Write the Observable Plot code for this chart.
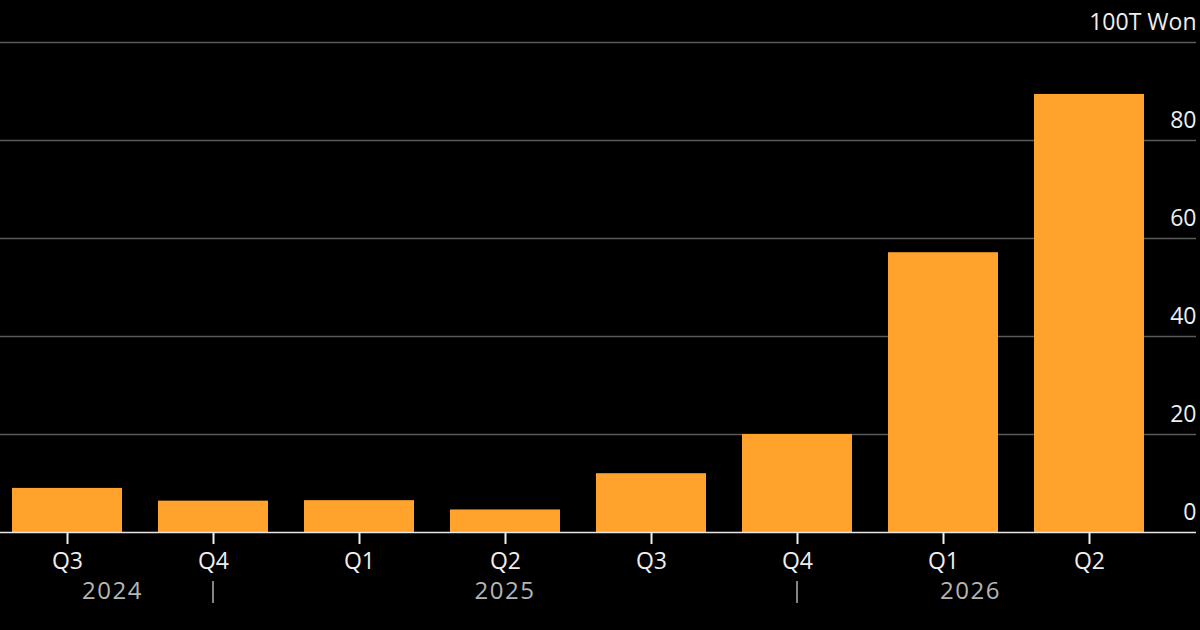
<!DOCTYPE html>
<html><head><meta charset="utf-8">
<script src="https://cdn.jsdelivr.net/npm/d3@7"></script>
<script src="https://cdn.jsdelivr.net/npm/@observablehq/plot@0.6"></script>
<style>html,body{margin:0;padding:0;background:#000;overflow:hidden} svg{display:block}</style>
</head><body><div id="chart"></div>
<script>
const quarters = ["Q3","Q4","Q1","Q2","Q3","Q4","Q1","Q2"];
const quarterYears = ["2024","2024","2025","2025","2025","2025","2026","2026"];
const values = [9.0, 6.4, 6.5, 4.6, 12.0, 20.0, 57.1, 89.4];
const yTicks = [0, 20, 40, 60, 80, 100];
const yTickLabels = ["0", "20", "40", "60", "80", "100T Won"];
const years = ["2024", "2025", "2026"];
const yearSeparators = ["2024 Q4", "2025 Q4"];

const keys = quarters.map((q, i) => `${quarterYears[i]} ${q}`);
const data = keys.map((k, i) => ({key: k, quarter: quarters[i], value: values[i]}));

const font = "'Open Sans', 'Noto Sans', sans-serif";
const plot = Plot.plot({
  width: 1200, height: 630,
  marginTop: 42, marginBottom: 98, marginLeft: 0, marginRight: 4,
  style: {background: "#000", color: "#eee", fontFamily: font},
  x: {domain: keys, range: [0, 1156], paddingInner: 0.25, paddingOuter: 0.082, axis: null},
  y: {domain: [0, 100], axis: null},
  marks: [
    Plot.ruleY(yTicks.slice(1), {stroke: "#5a5a5a", strokeWidth: 1.5}),
    Plot.barY(data, {x: "key", y: "value", fill: "#ffa32c"}),
    Plot.ruleY([0], {stroke: "#e8e8e8", strokeWidth: 1.6}),
    Plot.axisX({tickSize: 12, tickPadding: 8, fontSize: 23, tickFormat: k => k.split(" ")[1], color: "#eee", strokeWidth: 2, label: null}),
    Plot.text(yTicks, {y: d => d, text: (d, i) => yTickLabels[i], frameAnchor: "right", textAnchor: "end", lineAnchor: "bottom", dy: -13, fontSize: 23, fill: "#eee"})
  ]
});
document.getElementById("chart").appendChild(plot);

// year labels and separators placed with Plot's own x scale
const sx = plot.scale("x");
const bw = sx.bandwidth;
const center = k => sx.apply(k) + bw / 2;
const bounds = [sx.apply(keys[0]), ...yearSeparators.map(center), sx.apply(keys[keys.length - 1]) + bw];
const svg = d3.select(plot);
const g = svg.append("g").attr("font-family", font);
g.selectAll("line").data(yearSeparators).join("line")
  .attr("x1", center).attr("x2", center)
  .attr("y1", 581).attr("y2", 603)
  .attr("stroke", "#b0b0b0").attr("stroke-width", 1.5);
g.selectAll("text").data(years).join("text")
  .attr("x", (d, i) => (bounds[i] + bounds[i + 1]) / 2)
  .attr("y", 599)
  .attr("text-anchor", "middle")
  .attr("font-size", 24)
  .attr("letter-spacing", 1.5)
  .attr("fill", "#b5b5b5")
  .text(d => d);
</script>
</body></html>
